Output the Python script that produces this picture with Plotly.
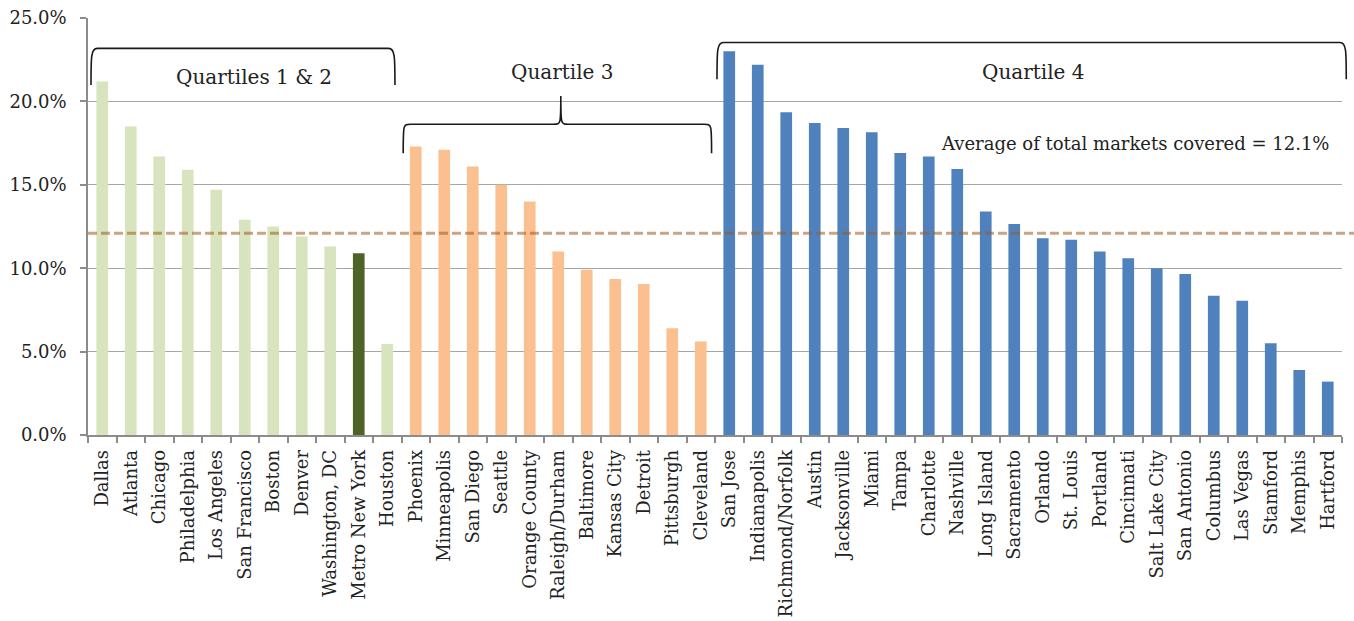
import plotly.graph_objects as go

# Share of total markets covered, by metro
CITIES = [
    "Dallas", "Atlanta", "Chicago", "Philadelphia", "Los Angeles", "San Francisco",
    "Boston", "Denver", "Washington, DC", "Metro New York", "Houston",
    "Phoenix", "Minneapolis", "San Diego", "Seattle", "Orange County",
    "Raleigh/Durham", "Baltimore", "Kansas City", "Detroit", "Pittsburgh", "Cleveland",
    "San Jose", "Indianapolis", "Richmond/Norfolk", "Austin", "Jacksonville", "Miami",
    "Tampa", "Charlotte", "Nashville", "Long Island", "Sacramento", "Orlando",
    "St. Louis", "Portland", "Cincinnati", "Salt Lake City", "San Antonio",
    "Columbus", "Las Vegas", "Stamford", "Memphis", "Hartford",
]
VALUES = [
    21.2, 18.5, 16.7, 15.9, 14.7, 12.9, 12.5, 11.9, 11.3, 10.9, 5.45,
    17.3, 17.1, 16.1, 15.0, 14.0, 11.0, 9.9, 9.35, 9.05, 6.4, 5.6,
    23.0, 22.2, 19.35, 18.7, 18.4, 18.15, 16.9, 16.7, 15.95, 13.4, 12.65, 11.8,
    11.7, 11.0, 10.6, 10.0, 9.65, 8.35, 8.05, 5.5, 3.9, 3.2,
]
GROUPS = ["Q12"] * 11 + ["Q3"] * 11 + ["Q4"] * 22
HIGHLIGHT = "Metro New York"
AVERAGE = 12.1
Y_TICKS = [0, 5, 10, 15, 20, 25]

GROUP_COLORS = {"Q12": "#D7E4BD", "Q3": "#FAC090", "Q4": "#4F81BD"}
HIGHLIGHT_COLOR = "#4F6228"
FONT = "DejaVu Serif"
TEXT = "#222222"

bar_colors = [HIGHLIGHT_COLOR if c == HIGHLIGHT else GROUP_COLORS[g]
              for c, g in zip(CITIES, GROUPS)]

N = len(CITIES)


def px(i):
    """Category index -> paper x fraction (axis spans -0.5 .. N-0.5)."""
    return (i + 0.5) / N


fig = go.Figure(go.Bar(
    x=CITIES, y=VALUES,
    marker=dict(color=bar_colors, line=dict(width=0)),
    hoverinfo="x+y",
))


def bracket(i0, i1, y_end, y_top, r=0.22, ry=0.5):
    """Square bracket opening downward with softly rounded corners."""
    a, b = px(i0), px(i1)
    d = r / N
    return (f"M {a},{y_end} C {a},{y_top - ry} {a},{y_top} {a + d},{y_top} "
            f"L {b - d},{y_top} C {b},{y_top} {b},{y_top - ry} {b},{y_end}")


def curly(i0, ic, i1, y_end, y_mid, y_tip, r=0.25):
    """Curly brace opening downward, tip pointing up at index ic."""
    a, c, b = px(i0), px(ic), px(i1)
    d = r / N
    return (f"M {a},{y_end} C {a},{y_mid} {a},{y_mid} {a + d},{y_mid} "
            f"L {c - d},{y_mid} C {c},{y_mid} {c},{y_mid} {c},{y_tip} "
            f"C {c},{y_mid} {c},{y_mid} {c + d},{y_mid} "
            f"L {b - d},{y_mid} C {b},{y_mid} {b},{y_mid} {b},{y_end}")


brace_line = dict(color="#1a1a1a", width=1.6)
shapes = [
    dict(type="path", xref="paper", yref="y", layer="above",
         path=bracket(-0.395, 10.27, 20.98, 23.18), line=brace_line),
    dict(type="path", xref="paper", yref="y", layer="above",
         path=curly(10.56, 16.09, 21.38, 16.89, 18.63, 20.32), line=brace_line),
    dict(type="path", xref="paper", yref="y", layer="above",
         path=bracket(21.57, 43.65, 21.33, 23.53), line=brace_line),
    # average reference line
    dict(type="line", xref="paper", yref="y", layer="above",
         x0=0, x1=1.01, y0=AVERAGE, y1=AVERAGE,
         line=dict(color="rgba(160,90,30,0.55)", width=3, dash="9px,4px")),
]

annotations = [
    dict(x=5.32, y=21.46, xref="x", yref="y", text="Quartiles 1 & 2",
         showarrow=False, font=dict(family=FONT, size=20, color=TEXT)),
    dict(x=16.16, y=21.76, xref="x", yref="y", text="Quartile 3",
         showarrow=False, font=dict(family=FONT, size=20, color=TEXT)),
    dict(x=32.68, y=21.76, xref="x", yref="y", text="Quartile 4",
         showarrow=False, font=dict(family=FONT, size=20, color=TEXT)),
    dict(x=43.1, y=17.5, xref="x", yref="y", xanchor="right",
         text=f"Average of total markets covered = {AVERAGE}%",
         showarrow=False, font=dict(family=FONT, size=18, color=TEXT)),
]

fig.update_layout(
    width=1354, height=621,
    margin=dict(l=88, r=12, t=18, b=186),
    paper_bgcolor="white", plot_bgcolor="white",
    bargap=0.59,
    showlegend=False,
    shapes=shapes,
    annotations=annotations,
    font=dict(family=FONT, color=TEXT),
    xaxis=dict(
        type="category", range=[-0.5, N - 0.5], automargin=False,
        tickangle=-90, tickson="boundaries",
        ticks="outside", ticklen=6, tickcolor="#8c8c8c", tickwidth=1.5,
        showline=True, linecolor="#8c8c8c", linewidth=1.5,
        showgrid=False, ticklabelstandoff=6,
        tickfont=dict(family=FONT, size=18, color=TEXT),
    ),
    yaxis=dict(
        range=[0, 25], tickvals=Y_TICKS, automargin=False,
        ticktext=[f"{v:.1f}%" for v in Y_TICKS],
        ticks="outside", ticklen=6, tickcolor="#8c8c8c", tickwidth=1.5,
        showline=True, linecolor="#8c8c8c", linewidth=1.5,
        showgrid=True, gridcolor="#a6a6a6", gridwidth=1.2,
        zeroline=False, ticklabelstandoff=10,
        tickfont=dict(family=FONT, size=18, color=TEXT),
    ),
)

fig.write_html("out.html")
